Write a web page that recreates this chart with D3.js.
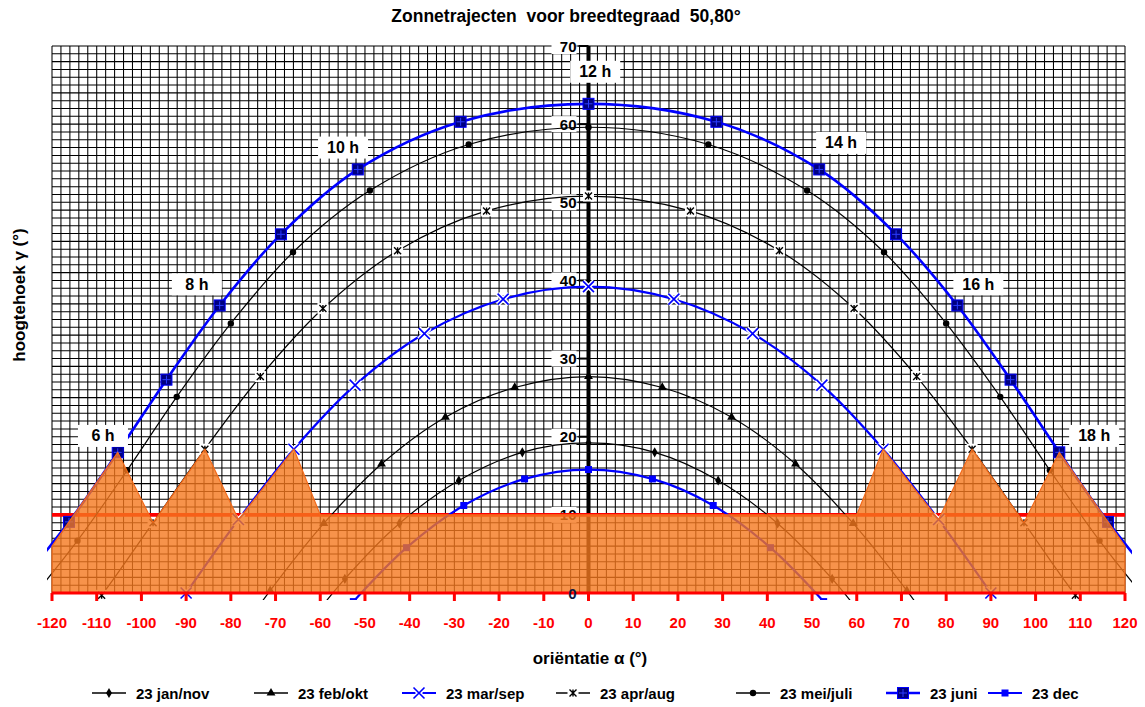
<!DOCTYPE html>
<html>
<head>
<meta charset="utf-8">
<script src="https://cdn.jsdelivr.net/npm/d3@7"></script>
<style>
  html, body { margin: 0; padding: 0; background: #fff; }
  svg { display: block; font-family: "Liberation Sans", Arial, sans-serif; }
</style>
</head>
<body>
<svg id="chart" width="1145" height="707"></svg>
<script>
// Sun paths at latitude 50.80°: azimuth (° from south, east negative) and altitude (°), one point per full hour
const seriesNames = ["23 jan/nov", "23 feb/okt", "23 mar/sep", "23 apr/aug", "23 mei/juli", "23 juni", "23 dec"];

const azJanNov  = [-66.0, -54.5, -42.3, -29.0, -14.8, 0, 14.8, 29.0, 42.3, 54.5, 66.0];
const altJanNov = [-6.4, 1.8, 8.9, 14.4, 18.0, 19.2, 18.0, 14.4, 8.9, 1.8, -6.4];

const azFebOkt  = [-82.7, -71.2, -59.2, -46.3, -32.0, -16.5, 0, 16.5, 32.0, 46.3, 59.2, 71.2, 82.7];
const altFebOkt = [-8.9, 0.3, 8.9, 16.5, 22.5, 26.3, 27.7, 26.3, 22.5, 16.5, 8.9, 0.3, -8.9];

const azMarSep  = [-90.0, -78.3, -65.9, -52.2, -36.7, -19.1, 0, 19.1, 36.7, 52.2, 65.9, 78.3, 90.0];
const altMarSep = [0.0, 9.4, 18.4, 26.6, 33.2, 37.6, 39.2, 37.6, 33.2, 26.6, 18.4, 9.4, 0.0];

const azAprAug  = [-120.9, -108.9, -97.4, -85.8, -73.4, -59.4, -42.7, -22.8, 0, 22.8, 42.7, 59.4, 73.4, 85.8, 97.4, 108.9, 120.9];
const altAprAug = [-8.9, -0.3, 9.0, 18.4, 27.7, 36.4, 43.8, 48.9, 50.8, 48.9, 43.8, 36.4, 27.7, 18.4, 9.0, -0.3, -8.9];

const azMeiJuli  = [-125.7, -114.3, -103.2, -92.1, -80.0, -66.1, -48.9, -26.8, 0, 26.8, 48.9, 66.1, 80.0, 92.1, 103.2, 114.3, 125.7];
const altMeiJuli = [-1.5, 6.7, 15.7, 25.1, 34.5, 43.6, 51.5, 57.4, 59.6, 57.4, 51.5, 43.6, 34.5, 25.1, 15.7, 6.7, -1.5];

const azJuni  = [-127.4, -116.2, -105.3, -94.4, -82.5, -68.8, -51.6, -28.6, 0, 28.6, 51.6, 68.8, 82.5, 94.4, 105.3, 116.2, 127.4];
const altJuni = [1.1, 9.1, 18.0, 27.3, 36.8, 45.9, 54.2, 60.3, 62.6, 60.3, 54.2, 45.9, 36.8, 27.3, 18.0, 9.1, 1.1];

const azDec  = [-52.6, -40.7, -27.9, -14.3, 0, 14.3, 27.9, 40.7, 52.6];
const altDec = [-1.1, 5.8, 11.2, 14.6, 15.8, 14.6, 11.2, 5.8, -1.1];

// Skyline of surrounding obstacles (azimuth, altitude)
const obstacleAz  = [-120, -120, -116.2, -105.3, -97.4, -85.8, -78.3, -65.9, -60, 60, 65.9, 78.3, 85.8, 97.4, 105.3, 116.2, 120, 120];
const obstacleAlt = [0, 6.0, 9.1, 18.0, 9.0, 18.4, 9.4, 18.4, 10, 10, 18.4, 9.4, 18.4, 9.0, 18.0, 9.1, 6.0, 0];

// Minimum useful altitude
const limitAltitude = 10;

// Hour annotations along the June path
const hourLabels   = ["6 h", "8 h", "10 h", "12 h", "14 h", "16 h", "18 h"];
const hourLabelAz  = [-108.6, -87.6, -54.9, 1.5, 56.5, 87.2, 113.1];
const hourLabelAlt = [20.1, 39.5, 57.0, 66.7, 57.6, 39.5, 20.1];

const xTicks = [-120, -110, -100, -90, -80, -70, -60, -50, -40, -30, -20, -10, 0, 10, 20, 30, 40, 50, 60, 70, 80, 90, 100, 110, 120];
const yTicks = [0, 10, 20, 30, 40, 50, 60, 70];

const seriesAz  = [azJanNov, azFebOkt, azMarSep, azAprAug, azMeiJuli, azJuni, azDec];
const seriesAlt = [altJanNov, altFebOkt, altMarSep, altAprAug, altMeiJuli, altJuni, altDec];

// Visual style of each path
const styles = [
  { color: "#000", width: 1.2, marker: "diamond" },
  { color: "#000", width: 1.2, marker: "triangle" },
  { color: "#0000ff", width: 2.2, marker: "cross" },
  { color: "#000", width: 1.2, marker: "star" },
  { color: "#000", width: 1.2, marker: "circle" },
  { color: "#0000ff", width: 2.6, marker: "bigsquare" },
  { color: "#0000ff", width: 2.2, marker: "smallsquare" }
];

const svg = d3.select("#chart");
const x = d3.scaleLinear().domain([-120, 120]).range([52, 1125]);
const y = d3.scaleLinear().domain([0, 70]).range([593, 46]);

svg.append("rect").attr("width", 1145).attr("height", 707).attr("fill", "#fff");

// Grid: vertical every 2°, horizontal every 1°
const grid = svg.append("g").attr("stroke", "#000").attr("stroke-width", 1.05);
grid.selectAll("line.v").data(d3.range(-120, 121, 2)).join("line")
  .attr("x1", d => x(d)).attr("x2", d => x(d))
  .attr("y1", y(0)).attr("y2", y(70));
grid.selectAll("line.h").data(d3.range(0, 71, 1)).join("line")
  .attr("y1", d => y(d)).attr("y2", d => y(d))
  .attr("x1", x(-120)).attr("x2", x(120));

// Vertical axis at south (0°)
const yAxis = svg.append("g");
yAxis.append("line")
  .attr("x1", x(0)).attr("x2", x(0)).attr("y1", y(0)).attr("y2", y(70))
  .attr("stroke", "#000").attr("stroke-width", 4);
yAxis.selectAll("line.tick").data(yTicks).join("line")
  .attr("x1", x(0) - 10).attr("x2", x(0))
  .attr("y1", d => y(d)).attr("y2", d => y(d))
  .attr("stroke", "#000").attr("stroke-width", 2);
const yLab = yAxis.selectAll("g.lab").data(yTicks.filter(d => d !== 0)).join("g");
yLab.append("rect")
  .attr("x", x(0) - 37).attr("y", d => y(d) - 8)
  .attr("width", 25).attr("height", 16).attr("fill", "#fff");
yLab.append("text")
  .attr("x", x(0) - 12).attr("y", d => y(d))
  .attr("text-anchor", "end").attr("dominant-baseline", "central")
  .attr("font-size", 15).attr("font-weight", "bold").attr("fill", "#000")
  .text(d => d);

// Clipped drawing area for the sun paths
svg.append("clipPath").attr("id", "plotClip")
  .append("rect").attr("x", 47).attr("y", 38).attr("width", 1085).attr("height", 562);

// Limit line at 10°
svg.append("line")
  .attr("x1", x(-120)).attr("x2", x(120))
  .attr("y1", y(limitAltitude)).attr("y2", y(limitAltitude))
  .attr("stroke", "#ff0000").attr("stroke-width", 3.8);

function drawMarker(g, type, cx, cy, color) {
  if (type === "diamond") {
    g.append("path").attr("d", d3.symbol(d3.symbolDiamond, 30)())
      .attr("transform", `translate(${cx},${cy})`).attr("fill", "#000");
  } else if (type === "triangle") {
    g.append("path").attr("d", d3.symbol(d3.symbolTriangle, 34)())
      .attr("transform", `translate(${cx},${cy})`).attr("fill", "#000");
  } else if (type === "circle") {
    g.append("circle").attr("cx", cx).attr("cy", cy).attr("r", 3.2).attr("fill", "#000");
  } else if (type === "cross") {
    const s = 5.5;
    const p = `M${cx - s},${cy - s}L${cx + s},${cy + s}M${cx - s},${cy + s}L${cx + s},${cy - s}`;
    g.append("path").attr("d", p).attr("stroke", "#fff").attr("stroke-width", 4.5).attr("fill", "none");
    g.append("path").attr("d", p).attr("stroke", color).attr("stroke-width", 1.6).attr("fill", "none");
  } else if (type === "star") {
    const s = 3.5;
    g.append("rect").attr("x", cx - 5.5).attr("y", cy - 5.5).attr("width", 11).attr("height", 11).attr("fill", "#fff");
    const p = `M${cx - s},${cy - s}L${cx + s},${cy + s}M${cx - s},${cy + s}L${cx + s},${cy - s}M${cx},${cy - s}L${cx},${cy + s}`;
    g.append("path").attr("d", p).attr("stroke", "#000").attr("stroke-width", 1.4).attr("fill", "none");
  } else if (type === "bigsquare") {
    g.append("rect").attr("x", cx - 5.5).attr("y", cy - 5.5).attr("width", 11).attr("height", 11)
      .attr("fill", "#000080").attr("stroke", "#0000ff").attr("stroke-width", 1);
    g.append("path").attr("d", `M${cx - 4},${cy}L${cx + 4},${cy}M${cx},${cy - 4}L${cx},${cy + 4}`)
      .attr("stroke", "#2a3cff").attr("stroke-width", 1).attr("fill", "none");
  } else if (type === "smallsquare") {
    g.append("rect").attr("x", cx - 3.5).attr("y", cy - 3.5).attr("width", 7).attr("height", 7)
      .attr("fill", color);
  }
}

const line = d3.line()
  .x(d => x(d[0])).y(d => y(d[1]))
  .curve(d3.curveCatmullRom.alpha(0.5));

const paths = svg.append("g").attr("clip-path", "url(#plotClip)");
seriesNames.forEach((name, i) => {
  const pts = seriesAz[i].map((a, k) => [a, seriesAlt[i][k]]);
  const st = styles[i];
  const g = paths.append("g");
  g.append("path").datum(pts).attr("d", line)
    .attr("fill", "none").attr("stroke", st.color).attr("stroke-width", st.width);
  pts.forEach(p => drawMarker(g, st.marker, x(p[0]), y(p[1]), st.color));
});

// Obstacle skyline
const obstaclePts = obstacleAz.map((a, k) => [a, obstacleAlt[k]]);
svg.append("path").datum(obstaclePts)
  .attr("d", d3.line().x(d => x(d[0])).y(d => y(d[1])))
  .attr("fill", "rgb(245,120,30)").attr("fill-opacity", 0.8)
  .attr("stroke", "#f26a1b").attr("stroke-width", 1.2);

// Horizontal axis (red)
const xAxis = svg.append("g");
xAxis.append("line")
  .attr("x1", x(-120)).attr("x2", x(120)).attr("y1", y(0)).attr("y2", y(0))
  .attr("stroke", "#ff0000").attr("stroke-width", 3);
xAxis.selectAll("line.tick").data(xTicks).join("line")
  .attr("x1", d => x(d)).attr("x2", d => x(d))
  .attr("y1", y(0)).attr("y2", y(0) + 8)
  .attr("stroke", "#ff0000").attr("stroke-width", 3);
xAxis.selectAll("text").data(xTicks).join("text")
  .attr("x", d => x(d)).attr("y", y(0) + 29)
  .attr("text-anchor", "middle").attr("dominant-baseline", "central")
  .attr("font-size", 15).attr("font-weight", "bold").attr("fill", "#ff0000")
  .text(d => d);

svg.append("text")
  .attr("x", x(0) - 12).attr("y", y(0))
  .attr("text-anchor", "end").attr("dominant-baseline", "central")
  .attr("font-size", 15).attr("font-weight", "bold").attr("fill", "#0d1a40")
  .text(yTicks[0]);

// Hour annotations
const hl = svg.append("g").selectAll("g").data(hourLabels).join("g");
hl.append("rect")
  .attr("x", (d, i) => x(hourLabelAz[i]) - 25).attr("y", (d, i) => y(hourLabelAlt[i]) - 11)
  .attr("width", 50).attr("height", 22).attr("fill", "#fff");
hl.append("text")
  .attr("x", (d, i) => x(hourLabelAz[i])).attr("y", (d, i) => y(hourLabelAlt[i]))
  .attr("text-anchor", "middle").attr("dominant-baseline", "central")
  .attr("font-size", 16).attr("font-weight", "bold").attr("fill", "#000")
  .text(d => d);

// Titles
svg.append("text")
  .attr("x", 566).attr("y", 16)
  .attr("text-anchor", "middle").attr("dominant-baseline", "central")
  .attr("font-size", 17.5).attr("font-weight", "bold")
  .style("white-space", "pre")
  .text("Zonnetrajecten  voor breedtegraad  50,80°");

svg.append("text")
  .attr("transform", "translate(19,295) rotate(-90)")
  .attr("text-anchor", "middle").attr("dominant-baseline", "central")
  .attr("font-size", 17).attr("font-weight", "bold")
  .text("hoogtehoek γ (°)");

svg.append("text")
  .attr("x", 590).attr("y", 658)
  .attr("text-anchor", "middle").attr("dominant-baseline", "central")
  .attr("font-size", 17).attr("font-weight", "bold")
  .text("oriëntatie α (°)");

// Legend
const legendX = [92, 254, 402, 556, 736, 886, 988];
const legendY = 693;
seriesNames.forEach((name, i) => {
  const st = styles[i];
  const g = svg.append("g");
  const x0 = legendX[i], x1 = legendX[i] + 34;
  g.append("line").attr("x1", x0).attr("x2", x1).attr("y1", legendY).attr("y2", legendY)
    .attr("stroke", st.color).attr("stroke-width", Math.max(st.width, 1.6));
  drawMarker(g, st.marker, (x0 + x1) / 2, legendY, st.color);
  g.append("text").attr("x", x1 + 10).attr("y", legendY)
    .attr("dominant-baseline", "central")
    .attr("font-size", 15).attr("font-weight", "bold").attr("fill", "#000")
    .text(name);
});
</script>
</body>
</html>
